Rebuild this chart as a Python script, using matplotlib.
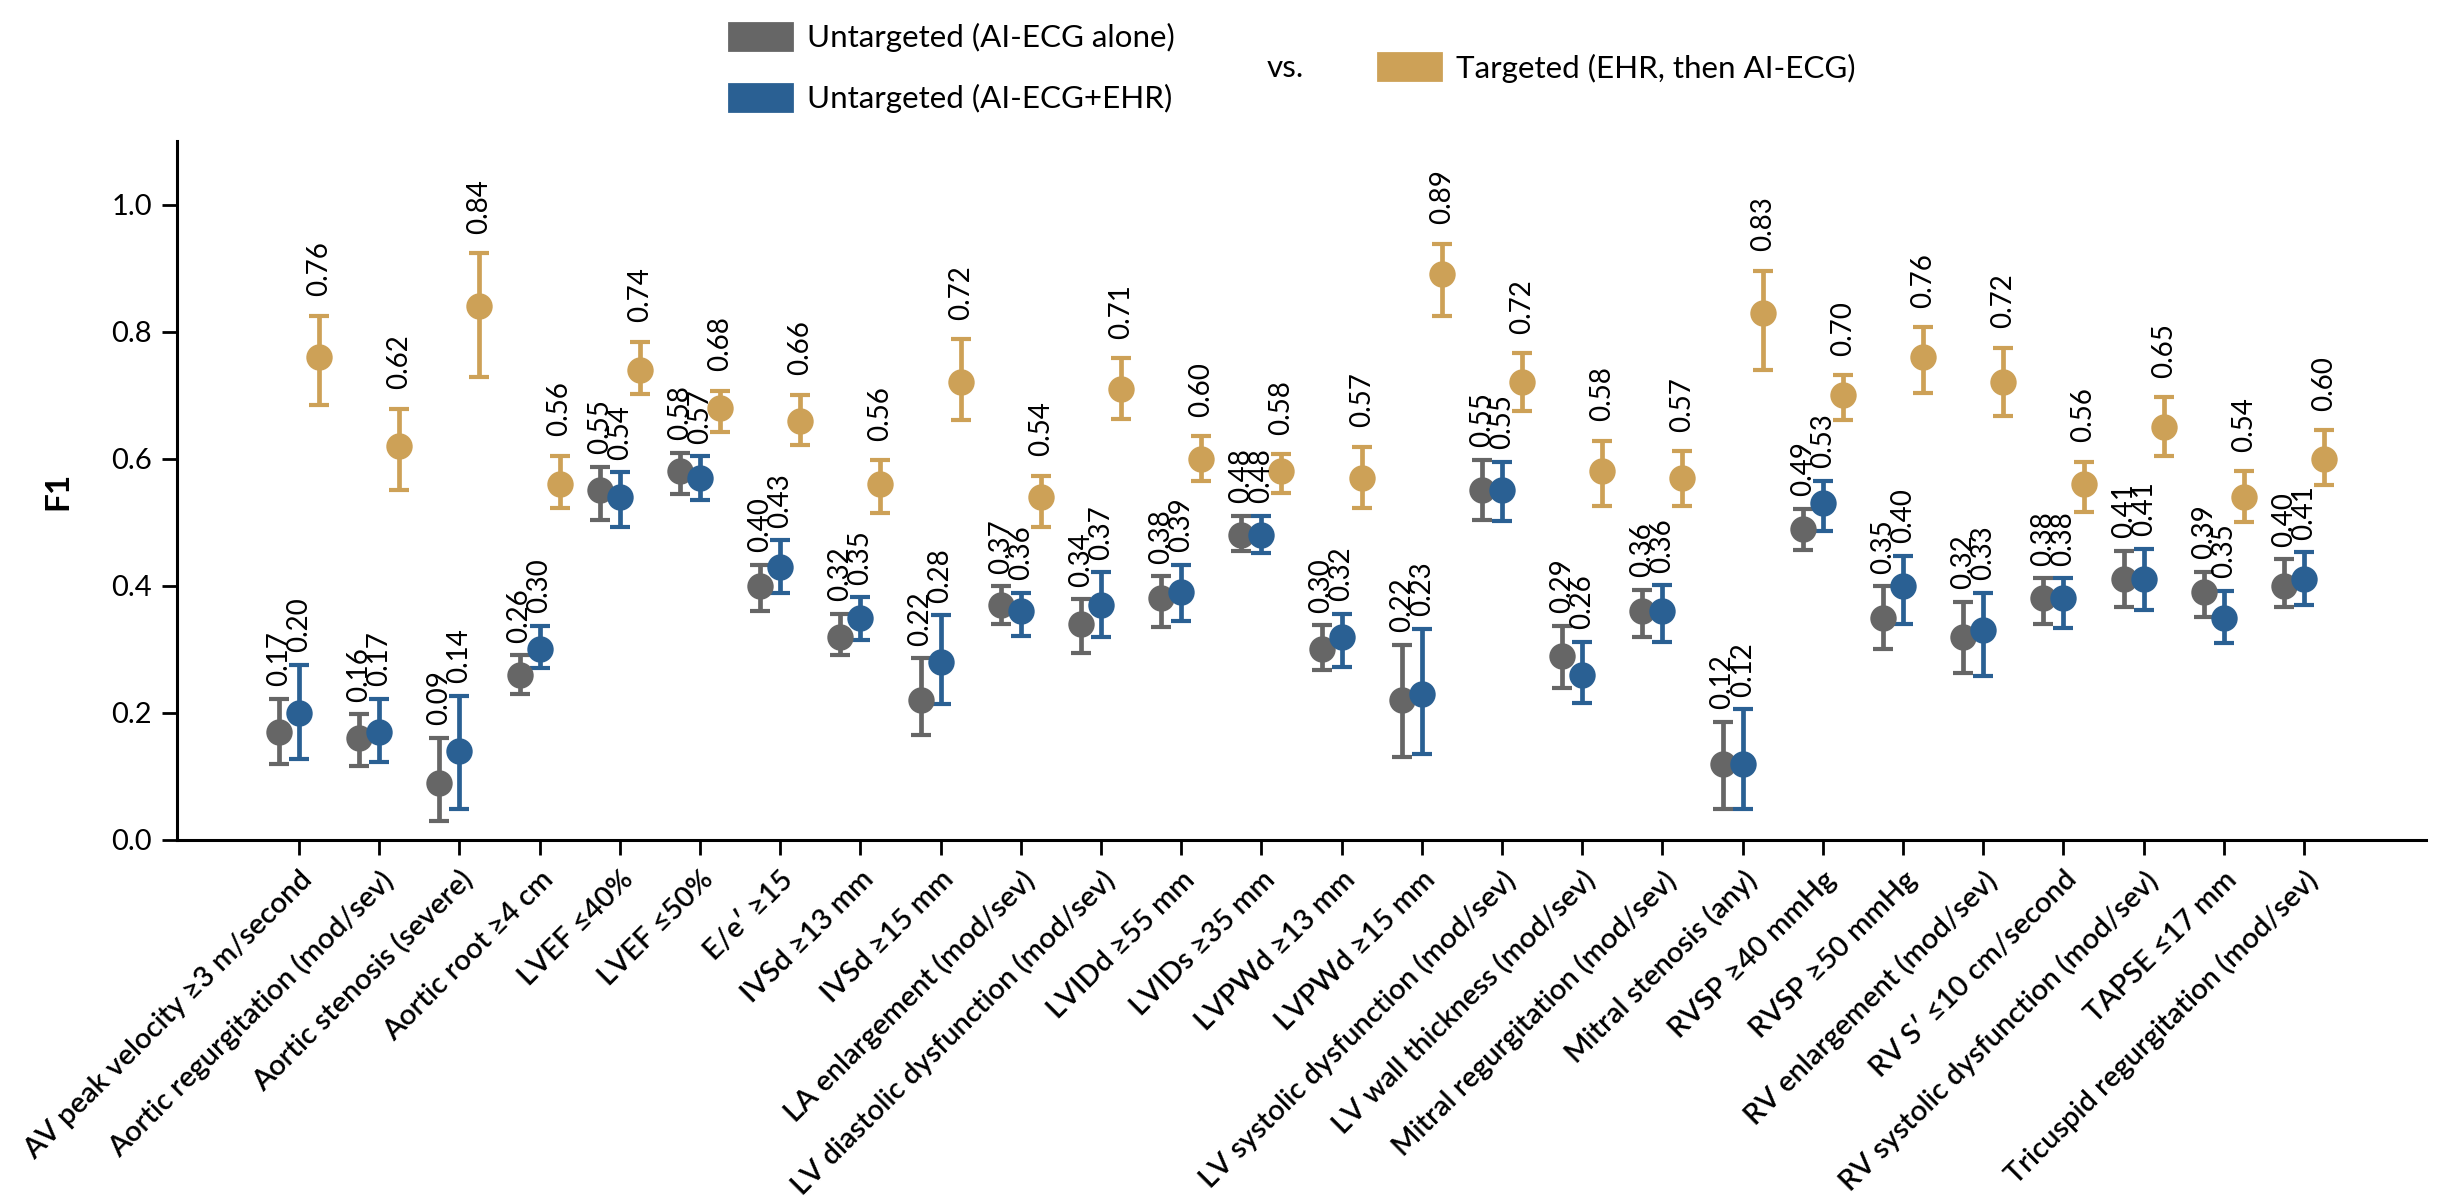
import matplotlib
matplotlib.use("Agg")
import numpy as np
import matplotlib.pyplot as plt
from matplotlib.patches import Patch

plt.rcParams['font.family'] = ['Lato', 'DejaVu Sans']

categories = [
    "AV peak velocity \u22653 m/second", "Aortic regurgitation (mod/sev)",
    "Aortic stenosis (severe)", "Aortic root \u22654 cm", "LVEF \u226440%",
    "LVEF \u226450%", "E/e\u2032 \u226515", "IVSd \u226513 mm", "IVSd \u226515 mm",
    "LA enlargement (mod/sev)", "LV diastolic dysfunction (mod/sev)",
    "LVIDd \u226555 mm", "LVIDs \u226535 mm", "LVPWd \u226513 mm", "LVPWd \u226515 mm",
    "LV systolic dysfunction (mod/sev)", "LV wall thickness (mod/sev)",
    "Mitral regurgitation (mod/sev)", "Mitral stenosis (any)", "RVSP \u226540 mmHg",
    "RVSP \u226550 mmHg", "RV enlargement (mod/sev)", "RV S\u2032 \u226410 cm/second",
    "RV systolic dysfunction (mod/sev)", "TAPSE \u226417 mm",
    "Tricuspid regurgitation (mod/sev)",
]

# untargeted, AI-ECG alone
ecg_mean = [0.17, 0.16, 0.09, 0.26, 0.55, 0.58, 0.40, 0.32, 0.22, 0.37, 0.34, 0.38, 0.48,
            0.30, 0.22, 0.55, 0.29, 0.36, 0.12, 0.49, 0.35, 0.32, 0.38, 0.41, 0.39, 0.40]
ecg_lo = [0.119, 0.116, 0.030, 0.229, 0.503, 0.544, 0.360, 0.291, 0.165, 0.340, 0.294, 0.335, 0.455,
          0.268, 0.131, 0.503, 0.239, 0.319, 0.049, 0.456, 0.300, 0.263, 0.340, 0.366, 0.351, 0.367]
ecg_hi = [0.222, 0.198, 0.161, 0.291, 0.587, 0.609, 0.433, 0.356, 0.286, 0.399, 0.379, 0.415, 0.510,
          0.338, 0.307, 0.598, 0.337, 0.394, 0.186, 0.521, 0.399, 0.375, 0.412, 0.455, 0.422, 0.442]

# untargeted, AI-ECG + EHR
ehr_mean = [0.20, 0.17, 0.14, 0.30, 0.54, 0.57, 0.43, 0.35, 0.28, 0.36, 0.37, 0.39, 0.48,
            0.32, 0.23, 0.55, 0.26, 0.36, 0.12, 0.53, 0.40, 0.33, 0.38, 0.41, 0.35, 0.41]
ehr_lo = [0.128, 0.123, 0.049, 0.270, 0.493, 0.535, 0.388, 0.314, 0.214, 0.321, 0.319, 0.345, 0.451,
          0.272, 0.135, 0.502, 0.215, 0.312, 0.049, 0.486, 0.340, 0.258, 0.334, 0.362, 0.310, 0.370]
ehr_hi = [0.276, 0.222, 0.227, 0.337, 0.579, 0.604, 0.472, 0.382, 0.354, 0.389, 0.421, 0.433, 0.510,
          0.356, 0.332, 0.595, 0.312, 0.401, 0.206, 0.565, 0.447, 0.389, 0.412, 0.458, 0.392, 0.453]

# targeted, EHR then AI-ECG
tgt_mean = [0.76, 0.62, 0.84, 0.56, 0.74, 0.68, 0.66, 0.56, 0.72, 0.54, 0.71, 0.60, 0.58,
            0.57, 0.89, 0.72, 0.58, 0.57, 0.83, 0.70, 0.76, 0.72, 0.56, 0.65, 0.54, 0.60]
tgt_lo = [0.684, 0.551, 0.728, 0.523, 0.702, 0.642, 0.621, 0.514, 0.661, 0.493, 0.663, 0.565, 0.546,
          0.523, 0.825, 0.675, 0.526, 0.525, 0.740, 0.661, 0.703, 0.667, 0.516, 0.604, 0.500, 0.559]
tgt_hi = [0.825, 0.679, 0.923, 0.605, 0.784, 0.707, 0.701, 0.598, 0.788, 0.573, 0.758, 0.635, 0.607,
          0.619, 0.938, 0.766, 0.628, 0.612, 0.896, 0.731, 0.807, 0.775, 0.595, 0.697, 0.580, 0.645]

c_gray = "#666666"
c_blue = "#2a6093"
c_gold = "#cda157"

fig = plt.figure(figsize=(12.26, 6.01), dpi=200)
ax = fig.add_axes([0.0722, 0.3012, 0.9172, 0.5815])

x = np.arange(len(categories))
series = [
    (ecg_mean, ecg_lo, ecg_hi, c_gray, -0.25, 4.5),
    (ehr_mean, ehr_lo, ehr_hi, c_blue, 0.0, 4.5),
    (tgt_mean, tgt_lo, tgt_hi, c_gold, 0.25, 7.0),
]
for mean, lo, hi, col, off, txt_off in series:
    mean = np.array(mean)
    lo = np.array(lo)
    hi = np.array(hi)
    ax.errorbar(x + off, mean, yerr=[mean - lo, hi - mean], fmt='o', color=col,
                ms=8.5, elinewidth=1.7, capsize=3.5, capthick=1.5)
    for xi, m, h in zip(x + off, mean, hi):
        ax.annotate(f"{m:.2f}", (xi, h), xytext=(0, txt_off), textcoords='offset points',
                    rotation=90, ha='center', va='bottom', fontsize=10)

ax.set_xlim(-1.52, 26.52)
ax.set_ylim(0, 1.1)
ax.set_yticks([0.0, 0.2, 0.4, 0.6, 0.8, 1.0])
ax.set_yticklabels(["0.0", "0.2", "0.4", "0.6", "0.8", "1.0"])
ax.set_xticks(x)
ax.set_xticklabels(categories, rotation=45, ha='right', rotation_mode='anchor',
                   fontsize=10.5, fontweight='semibold')
ax.set_ylabel("F1", fontsize=12, fontweight='bold', labelpad=14)
ax.spines['top'].set_visible(False)
ax.spines['right'].set_visible(False)
for s in ['left', 'bottom']:
    ax.spines[s].set_linewidth(1.1)
ax.tick_params(axis='both', length=5.5, width=1.0, labelsize=10.5)
ax.tick_params(axis='x', pad=4)

leg_y = 1 - 68 / 1202
leg1 = fig.legend(handles=[Patch(color=c_gray), Patch(color=c_blue)],
                  labels=["Untargeted (AI-ECG alone)", "Untargeted (AI-ECG+EHR)"],
                  loc='center left', bbox_to_anchor=(729 / 2452, leg_y),
                  frameon=False, fontsize=11.3, handlelength=2.0, handleheight=0.95,
                  handletextpad=0.5, labelspacing=1.0, borderpad=0, borderaxespad=0)
fig.text(1267 / 2452, leg_y, "vs.", fontsize=11.3, va='center', ha='left')
leg2 = fig.legend(handles=[Patch(color=c_gold)], labels=["Targeted (EHR, then AI-ECG)"],
                  loc='center left', bbox_to_anchor=(1378 / 2452, leg_y),
                  frameon=False, fontsize=11.3, handlelength=2.0, handleheight=0.95,
                  handletextpad=0.5, borderpad=0, borderaxespad=0)

fig.savefig("out.png", dpi=200)
